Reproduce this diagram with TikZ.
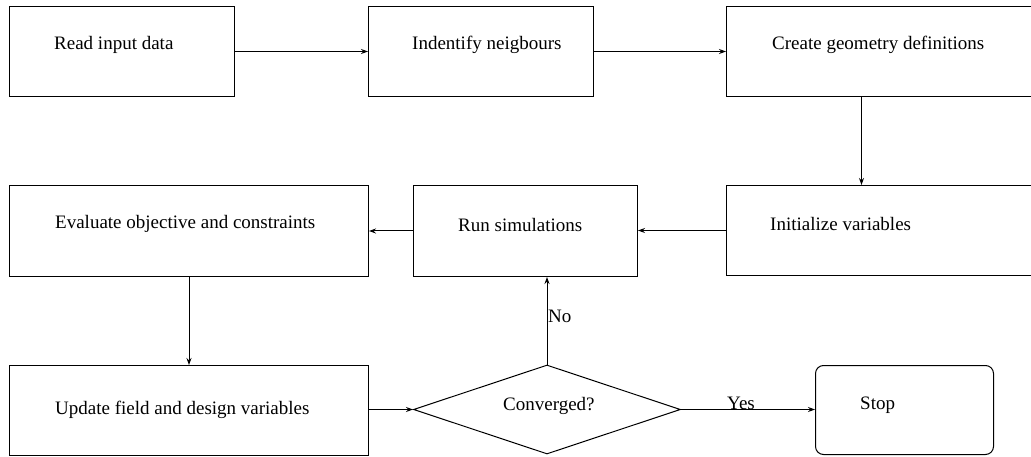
\documentclass[tikz,border=0pt]{standalone}
\usepackage{fontspec}
\setmainfont{Liberation Serif}
\usetikzlibrary{shapes.geometric,arrows.meta}
\begin{document}
\begin{tikzpicture}[x=1pt,y=-1pt,
  box/.style={draw,line width=1pt,rectangle,inner sep=0pt,anchor=north west},
  txt/.style={anchor=west,inner sep=0pt,font=\fontsize{19}{22}\selectfont},
  conn/.style={draw,line width=1pt,-{Stealth[length=7pt,width=5pt]}}]
\useasboundingbox (0,0) rectangle (1031,457);
\clip (0,0) rectangle (1031,457);
\fill[white] (0,0) rectangle (1031,457);
% boxes
\node[box,minimum width=225pt,minimum height=90pt] (b1) at (9,6) {};
\node[box,minimum width=225pt,minimum height=90pt] (b2) at (368,6) {};
\node[box,minimum width=359pt,minimum height=90pt] (b3) at (726,6) {};
\node[box,minimum width=359pt,minimum height=90pt] (b4) at (726,185) {};
\node[box,minimum width=224pt,minimum height=91pt] (b5) at (413,185) {};
\node[box,minimum width=359pt,minimum height=91pt] (b6) at (9,185) {};
\node[box,minimum width=359pt,minimum height=90pt] (b7) at (9,365) {};
\node[draw,line width=1pt,diamond,inner sep=0pt,minimum width=267pt,minimum height=89pt] (d) at (547,409.5) {};
\node[box,rounded corners=8pt,minimum width=178pt,minimum height=89pt] (stop) at (815,365) {};
% texts
\node[txt] (t1) at (54,45) {Read input data};
\node[txt] (t2) at (412,45) {Indentify neigbours};
\node[txt] (t3) at (772,45) {Create geometry definitions};
\node[txt] (t4) at (770,224) {Initialize variables};
\node[txt] (t5) at (458,225) {Run simulations};
\node[txt] (t6) at (55,224) {Evaluate objective and constraints};
\node[txt] (t7) at (55,410) {Update field and design variables};
\node[txt] (t8) at (503,406) {Converged?};
\node[txt] (t9) at (860,405) {Stop};
% connectors
\draw[conn] (b1.east) -- (b2.west);
\draw[conn] (b2.east) -- (b3.west);
\draw[conn] ([xshift=-44.5pt]b3.south) -- ([xshift=-44.5pt]b4.north);
\draw[conn] (b4.west) -- (b4.west -| b5.east);
\draw[conn] (b5.west) -- (b5.west -| b6.east);
\draw[conn] (b6.south) -- (b7.north);
\draw[conn] (b7.east |- d.west) -- (d.west);
\draw[conn] (d.north) -- (d.north |- b5.south);
\draw[conn] (d.east) -- (stop.west |- d.east);
\node[txt] (no) at (548,316) {No};
\node[txt] (yes) at (727,403) {Yes};
\end{tikzpicture}
\end{document}
